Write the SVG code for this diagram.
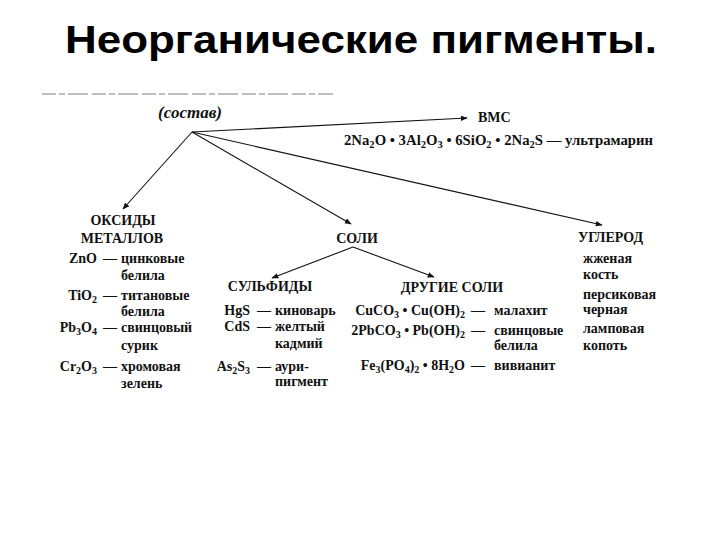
<svg xmlns="http://www.w3.org/2000/svg" width="720" height="540" viewBox="0 0 720 540">
<style>
.title{font-family:"Liberation Sans",Arial,sans-serif;font-weight:bold;font-size:38px;fill:#000}
.t{font-family:"Liberation Serif","Times New Roman",serif;font-weight:bold;font-size:14px;fill:#111}
.h{font-family:"Liberation Serif","Times New Roman",serif;font-weight:bold;font-size:14px;fill:#111}
.it{font-family:"Liberation Serif","Times New Roman",serif;font-weight:bold;font-style:italic;font-size:17px;fill:#111}
.e{text-anchor:end}
.c{text-anchor:middle}
.ln{stroke:#111;stroke-width:1.1;fill:none;marker-end:url(#ah)}
</style>
<defs>
<marker id="ah" viewBox="0 0 10 10" refX="9" refY="5" markerWidth="7" markerHeight="7" markerUnits="userSpaceOnUse" orient="auto">
<path d="M0,1 L10,5 L0,9 Z" fill="#111"/>
</marker>
</defs>
<rect width="720" height="540" fill="#fff"/>
<text class="title" x="65" y="53" textLength="592" lengthAdjust="spacingAndGlyphs">Неорганические пигменты.</text>
<line x1="42" y1="94" x2="333" y2="94" stroke="#aaa" stroke-width="1.6" stroke-dasharray="14,3,6,3,20,4"/>

<g id="connectors">
<line class="ln" x1="192" y1="132" x2="467" y2="118"/>
<line class="ln" x1="192" y1="132" x2="123" y2="209"/>
<line class="ln" x1="192" y1="132" x2="351" y2="224"/>
<line class="ln" x1="192" y1="132" x2="602" y2="225"/>
<line class="ln" x1="353" y1="247" x2="272" y2="278"/>
<line class="ln" x1="353" y1="247" x2="434" y2="277"/>
</g>

<g id="root">
<text class="it c" x="190" y="118">(состав)</text>
</g>

<g id="vmc">
<text class="h" x="478" y="122">ВМС</text>
<text class="t" x="344" y="145" textLength="309" lengthAdjust="spacingAndGlyphs">2Na<tspan font-size="10" dy="3">2</tspan><tspan dy="-3">O • 3Al</tspan><tspan font-size="10" dy="3">2</tspan><tspan dy="-3">O</tspan><tspan font-size="10" dy="3">3</tspan><tspan dy="-3"> • 6SiO</tspan><tspan font-size="10" dy="3">2</tspan><tspan dy="-3"> • 2Na</tspan><tspan font-size="10" dy="3">2</tspan><tspan dy="-3">S — ультрамарин</tspan></text>
</g>

<g id="oxides">
<text class="h c" x="123" y="225">ОКСИДЫ</text>
<text class="h c" x="122" y="243">МЕТАЛЛОВ</text>
<text class="t e" x="97" y="263">ZnO</text>
<text class="t" x="103" y="263">—</text>
<text class="t" x="121" y="263">цинковые</text>
<text class="t" x="121" y="280">белила</text>
<text class="t e" x="97" y="300">TiO<tspan font-size="10" dy="3">2</tspan></text>
<text class="t" x="103" y="300">—</text>
<text class="t" x="121" y="300">титановые</text>
<text class="t" x="121" y="316">белила</text>
<text class="t e" x="97" y="332">Pb<tspan font-size="10" dy="3">3</tspan><tspan dy="-3">O</tspan><tspan font-size="10" dy="3">4</tspan></text>
<text class="t" x="103" y="332">—</text>
<text class="t" x="121" y="332">свинцовый</text>
<text class="t" x="121" y="350">сурик</text>
<text class="t e" x="97" y="371">Cr<tspan font-size="10" dy="3">2</tspan><tspan dy="-3">O</tspan><tspan font-size="10" dy="3">3</tspan></text>
<text class="t" x="103" y="371">—</text>
<text class="t" x="121" y="371">хромовая</text>
<text class="t" x="121" y="388">зелень</text>
</g>

<g id="salts">
<text class="h c" x="357" y="243">СОЛИ</text>
</g>

<g id="sulfides">
<text class="h c" x="270" y="291">СУЛЬФИДЫ</text>
<text class="t e" x="250" y="315">HgS</text>
<text class="t" x="257" y="315">—</text>
<text class="t" x="275" y="315">киноварь</text>
<text class="t e" x="250" y="331">CdS</text>
<text class="t" x="257" y="331">—</text>
<text class="t" x="275" y="331">желтый</text>
<text class="t" x="275" y="348">кадмий</text>
<text class="t e" x="250" y="371">As<tspan font-size="10" dy="3">2</tspan><tspan dy="-3">S</tspan><tspan font-size="10" dy="3">3</tspan></text>
<text class="t" x="257" y="371">—</text>
<text class="t" x="275" y="371">аури-</text>
<text class="t" x="275" y="386">пигмент</text>
</g>

<g id="other-salts">
<text class="h c" x="452" y="292">ДРУГИЕ СОЛИ</text>
<text class="t e" x="465" y="315">CuCO<tspan font-size="10" dy="3">3</tspan><tspan dy="-3"> • Cu(OH)</tspan><tspan font-size="10" dy="3">2</tspan></text>
<text class="t" x="471" y="315">—</text>
<text class="t" x="494" y="315">малахит</text>
<text class="t e" x="465" y="335">2PbCO<tspan font-size="10" dy="3">3</tspan><tspan dy="-3"> • Pb(OH)</tspan><tspan font-size="10" dy="3">2</tspan></text>
<text class="t" x="471" y="335">—</text>
<text class="t" x="494" y="335">свинцовые</text>
<text class="t" x="494" y="350">белила</text>
<text class="t e" x="465" y="370">Fe<tspan font-size="10" dy="3">3</tspan><tspan dy="-3">(PO</tspan><tspan font-size="10" dy="3">4</tspan><tspan dy="-3">)</tspan><tspan font-size="10" dy="3">2</tspan><tspan dy="-3"> • 8H</tspan><tspan font-size="10" dy="3">2</tspan><tspan dy="-3">O</tspan></text>
<text class="t" x="471" y="370">—</text>
<text class="t" x="494" y="370">вивианит</text>
</g>

<g id="carbon">
<text class="h" x="578" y="242">УГЛЕРОД</text>
<text class="t" x="583" y="263">жженая</text>
<text class="t" x="583" y="279">кость</text>
<text class="t" x="583" y="299">персиковая</text>
<text class="t" x="583" y="314">черная</text>
<text class="t" x="583" y="333">ламповая</text>
<text class="t" x="583" y="350">копоть</text>
</g>
</svg>
